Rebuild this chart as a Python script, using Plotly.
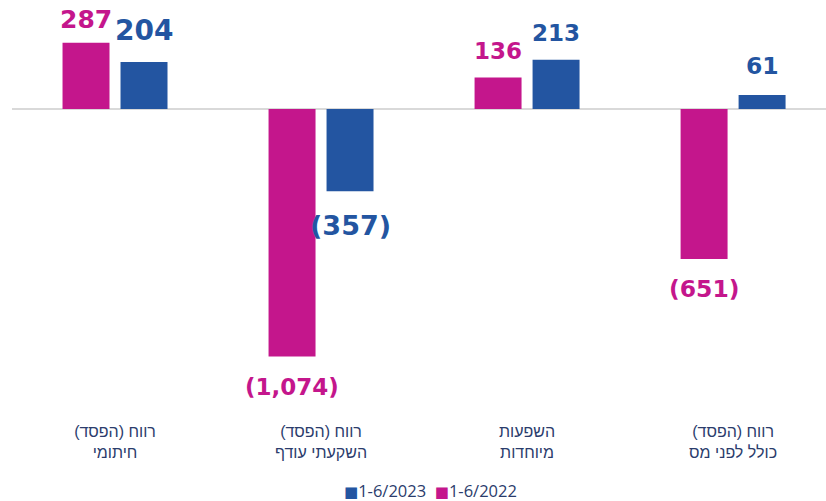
import plotly.graph_objects as go

categories = ["רווח (הפסד)<br>חיתומי", "רווח (הפסד)<br>השקעתי עודף", "השפעות<br>מיוחדות", "רווח (הפסד)<br>כולל לפני מס"]
values_2022 = [287, -1074, 136, -651]
values_2023 = [204, -357, 213, 61]
series_names = ["1-6/2022", "1-6/2023"]

PINK = "#C4168C"
BLUE = "#2355A1"
NAVY = "#2B3C6C"

# label styling (per bar): font sizes and vertical offsets in px
label_style = {
    "2022": dict(color=PINK, xshift=-29, sizes=[25, 23, 23, 23.5], yshifts=[7, -15, 12, -14]),
    "2023": dict(color=BLUE, xshift=29, sizes=[28, 27, 23, 23.5], yshifts=[13, -17, 12, 13]),
}

def fmt(v):
    s = f"{abs(v):,}"
    return f"({s})" if v < 0 else s

x_idx = list(range(len(categories)))

fig = go.Figure()
fig.add_trace(go.Bar(x=x_idx, y=values_2022, name=series_names[0], marker_color=PINK,
                     marker_line_width=0))
fig.add_trace(go.Bar(x=x_idx, y=values_2023, name=series_names[1], marker_color=BLUE,
                     marker_line_width=0))

annotations = []
for vals, st in [(values_2022, label_style["2022"]), (values_2023, label_style["2023"])]:
    for i, v in enumerate(vals):
        annotations.append(dict(
            x=i, y=v, xref="x", yref="y", text=fmt(v), showarrow=False,
            xshift=st["xshift"], yshift=st["yshifts"][i],
            yanchor=("bottom" if v >= 0 else "top"),
            font=dict(family="DejaVu Sans", size=st["sizes"][i], color=st["color"], weight="bold"),
        ))

# legend drawn as a text row (blue series first, as in the reference)
sq = "<span style='color:{c};font-family:DejaVu Sans;font-size:15px'>■</span>"
legend_text = (sq.format(c=BLUE) + series_names[1] + "  " + sq.format(c=PINK) + series_names[0])
annotations.append(dict(
    x=(430 - 12) / 814, y=-(490 - 415) / 404, xref="paper", yref="paper", text=legend_text,
    showarrow=False, xanchor="center", yanchor="middle", borderpad=0,
    font=dict(family="Open Sans", size=16.5, color=NAVY),
))

fig.update_layout(
    width=826, height=501,
    margin=dict(l=12, r=0, t=11, b=86),
    paper_bgcolor="white", plot_bgcolor="white",
    barmode="group", bargap=0.437, bargroupgap=0.19,
    showlegend=False,
    annotations=annotations,
    xaxis=dict(tickmode="array", tickvals=x_idx, ticktext=categories, automargin=False,
               range=[-0.5, 3.451], showgrid=False, zeroline=False, showline=False,
               ticks="", ticklabelstandoff=5,
               tickfont=dict(family="Liberation Sans", size=16, color=NAVY)),
    yaxis=dict(range=[-1327.6, 425], showgrid=False, showticklabels=False, ticks="", automargin=False,
               zeroline=True, zerolinecolor="#D9D9D9", zerolinewidth=2, showline=False),
)

fig.write_html("out.html", config={"displayModeBar": False},
               post_script="document.body.style.margin='0';")
